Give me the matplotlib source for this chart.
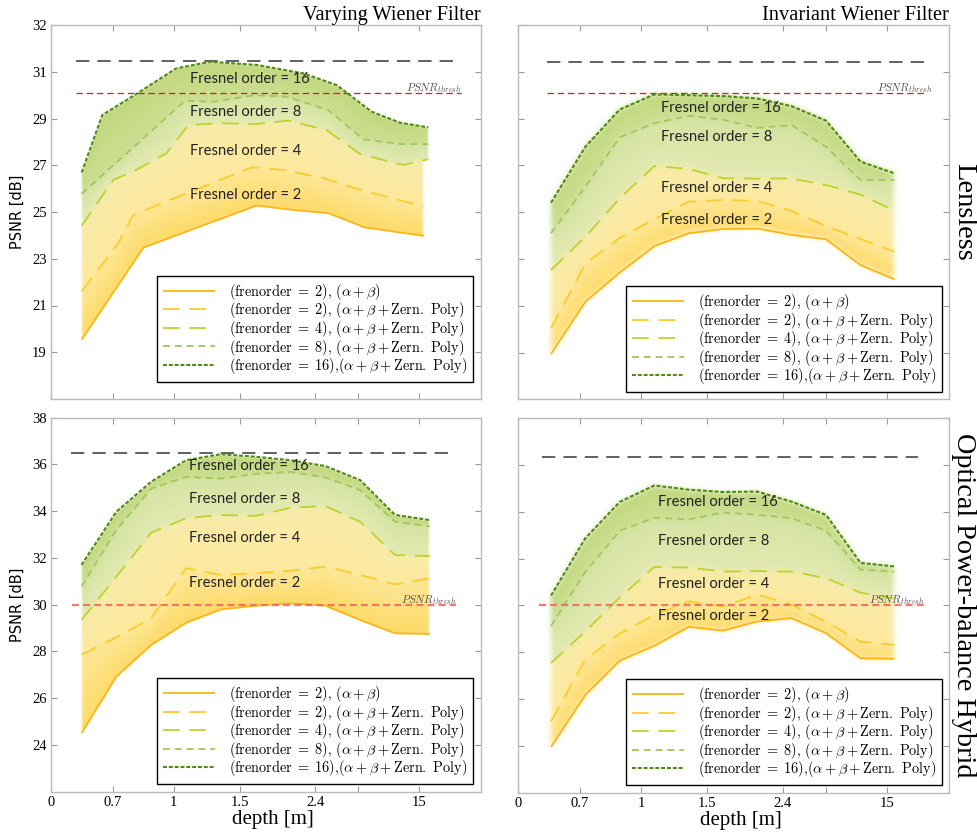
#!/usr/bin/env python3
"""
PSNR vs. depth for the varying / invariant Wiener filter,
lensless and optical power-balance hybrid set-ups.
"""

import numpy as np
import matplotlib
matplotlib.use('Agg')
import matplotlib.pyplot as plt
from matplotlib.colors import to_rgb

plt.rcParams['mathtext.fontset'] = 'cm'
plt.rcParams['lines.scale_dashes'] = False

SERIF = 'Liberation Serif'

# depth axis: positions along the axis (0-100) and the depths printed there
DEPTH_TICK_POS = [0, 14.34, 28.53, 43.95, 61.4, 71.47, 85.66]
DEPTH_TICK_LABELS = ['0', '0.7', '1', '1.5', '2.4', '', '15']

# sample positions of the depth sweep
POS_LEFT = [7.1, 15.2, 23.3, 31.4, 39.5, 47.6, 55.7, 63.8, 71.9, 80.0, 88.1]
POS_RIGHT = [7.6, 15.6, 23.6, 31.6, 39.6, 47.6, 55.5, 63.5, 71.5, 79.5, 87.4]

# --- Varying Wiener filter, lensless (curves sampled at their own positions)
vl_x_ab = [7.13, 21.47, 47.83, 56.36, 64.5, 73.02, 86.74]
vl_ab = [19.54, 23.48, 25.28, 25.09, 24.95, 24.34, 23.98]
vl_x_z2 = [7.13, 15.66, 19.15, 46.67, 54.03, 63.33, 71.86, 86.59]
vl_z2 = [21.6, 23.67, 24.88, 26.91, 26.8, 26.45, 25.95, 25.24]
vl_x_z4 = [7.13, 14.5, 19.15, 26.9, 31.94, 39.3, 47.44, 55.19, 64.11, 71.86, 81.94, 87.75]
vl_z4 = [24.41, 26.38, 26.73, 27.52, 28.72, 28.8, 28.76, 28.91, 28.5, 27.48, 27.01, 27.26]
vl_x_z8 = [7.13, 31.16, 37.75, 47.44, 54.8, 64.5, 72.64, 81.16, 87.75]
vl_z8 = [25.78, 29.76, 29.72, 30.0, 29.93, 29.36, 28.11, 27.91, 27.9]
vl_x_z16 = [7.13, 11.94, 20.3, 29.07, 36.98, 47.83, 58.68, 66.43, 74.57, 81.16, 87.75]
vl_z16 = [26.69, 29.15, 30.10, 31.14, 31.43, 31.29, 30.93, 30.43, 29.29, 28.82, 28.62]

# --- Invariant Wiener filter, lensless
il_ab = [18.94, 21.18, 22.42, 23.55, 24.1, 24.28, 24.3, 24.03, 23.84, 22.74, 22.13]
il_z2 = [20.04, 22.8, 23.9, 24.7, 25.45, 25.52, 25.48, 25.05, 24.4, 23.85, 23.31]
il_z4 = [22.53, 23.95, 25.6, 26.97, 26.85, 26.45, 26.43, 26.44, 26.16, 25.75, 25.06]
il_z8 = [24.1, 26.1, 28.2, 28.8, 29.12, 28.95, 28.6, 28.72, 27.8, 26.37, 26.37]
il_z16 = [25.4, 27.8, 29.39, 30.03, 30.0, 29.96, 29.86, 29.53, 28.91, 27.16, 26.66]

# --- Varying Wiener filter, optical power-balance hybrid
vh_ab = [24.51, 26.93, 28.28, 29.23, 29.8, 29.96, 30.06, 29.96, 29.35, 28.78, 28.75]
vh_z2 = [27.86, 28.6, 29.42, 31.56, 31.27, 31.35, 31.45, 31.63, 31.27, 30.87, 31.13]
vh_z4 = [29.35, 31.2, 33.08, 33.7, 33.84, 33.8, 34.15, 34.22, 33.55, 32.13, 32.08]
vh_z8 = [30.78, 33.2, 34.97, 35.47, 35.4, 35.6, 35.68, 35.45, 34.9, 33.55, 33.35]
vh_z16 = [31.7, 33.98, 35.26, 36.18, 36.44, 36.33, 36.18, 35.93, 35.33, 33.84, 33.62]

# --- Invariant Wiener filter, optical power-balance hybrid
ih_ab = [23.96, 26.19, 27.65, 28.28, 29.09, 28.93, 29.32, 29.46, 28.82, 27.75, 27.73]
ih_z2 = [25.05, 27.7, 28.8, 29.6, 30.17, 29.96, 30.47, 30.03, 29.3, 28.46, 28.32]
ih_z4 = [27.54, 28.9, 30.35, 31.65, 31.62, 31.45, 31.47, 31.45, 31.17, 30.55, 30.3]
ih_z8 = [29.13, 31.45, 33.2, 33.75, 33.68, 33.97, 33.88, 33.73, 33.2, 31.53, 31.45]
ih_z16 = [30.42, 32.88, 34.43, 35.13, 34.95, 34.85, 34.87, 34.44, 33.87, 31.82, 31.67]

# upper reference level and PSNR threshold of every panel
ref_level = {'vl': 31.46, 'il': 31.42, 'vh': 36.47, 'ih': 36.36}
psnr_thresh = {'vl': 30.08, 'il': 30.08, 'vh': 30.0, 'ih': 30.0}

# heights of the "Fresnel order" labels (orders 16, 8, 4, 2)
fresnel_orders = [16, 8, 4, 2]
label_y = {'vl': [30.69, 29.29, 27.63, 25.71],
           'il': [29.46, 28.22, 26.05, 24.67],
           'vh': [35.93, 34.53, 32.87, 30.93],
           'ih': [34.44, 32.76, 30.91, 29.53]}

LEGEND_LABELS = [
    r'$(\mathrm{frenorder}\;=\;2),\,(\alpha+\beta)$',
    r'$(\mathrm{frenorder}\;=\;2),\,(\alpha+\beta+\mathrm{Zern.\ Poly})$',
    r'$(\mathrm{frenorder}\;=\;4),\,(\alpha+\beta+\mathrm{Zern.\ Poly})$',
    r'$(\mathrm{frenorder}\;=\;8),\,(\alpha+\beta+\mathrm{Zern.\ Poly})$',
    r'$(\mathrm{frenorder}\;=\;16){,}(\alpha+\beta+\mathrm{Zern.\ Poly})$',
]

# curve styles: colour, width, dash pattern (points)
LINE_STYLES = [
    dict(color='#FDB515', lw=1.3, ls='-'),
    dict(color='#FDCB2C', lw=1.3, ls=(0, (12, 7))),
    dict(color='#BCD32E', lw=1.3, ls=(0, (12, 7))),
    dict(color='#A2C65C', lw=1.3, ls=(0, (5, 3.5))),
    dict(color='#4E8A12', lw=1.5, ls=(0, (2.8, 1.4))),
]

# band colours (bottom, top) from the lowest band upwards
BAND_COLORS = [
    ('#FDDB68', '#FEE796'),
    ('#FEE99E', '#F7EBA8'),
    ('#E4EAB2', '#D4E3A2'),
    ('#CCDF93', '#C2D77E'),
]


def gaussian_blur(img, sigma):
    """Separable gaussian blur along the first two axes."""
    if sigma <= 0:
        return img
    r = int(3 * sigma) + 1
    k = np.exp(-0.5 * (np.arange(-r, r + 1) / sigma) ** 2)
    k /= k.sum()
    pad = np.pad(img, ((r, r), (r, r)) + ((0, 0),) * (img.ndim - 2), mode='edge')
    out = np.apply_along_axis(lambda v: np.convolve(v, k, mode='valid'), 0, pad)
    out = np.apply_along_axis(lambda v: np.convolve(v, k, mode='valid'), 1, out)
    return out


def draw_bands(ax, curves, ylim, sigma, size=(430, 374)):
    """Fill the space between consecutive curves as a soft-edged raster."""
    w, h = size
    xs = np.linspace(0, 100, w)
    ys = np.linspace(ylim[0], ylim[1], h)
    X, Y = np.meshgrid(xs, ys)
    rgb = np.ones((h, w, 3))
    alpha = np.zeros((h, w))
    for k in range(len(curves) - 1):
        (xl, yl), (xh, yh) = curves[k], curves[k + 1]
        lo = np.interp(xs, xl, yl)[None, :]
        hi = np.interp(xs, xh, yh)[None, :]
        x0 = max(xl[0], xh[0])
        x1 = min(xl[-1], xh[-1])
        inside = (Y >= lo) & (Y < hi) & (X >= x0) & (X <= x1)
        t = np.clip((Y - lo) / np.maximum(hi - lo, 1e-6), 0, 1)[..., None]
        c0 = np.array(to_rgb(BAND_COLORS[k][0]))
        c1 = np.array(to_rgb(BAND_COLORS[k][1]))
        col = c0 * (1 - t) + c1 * t
        rgb[inside] = col[inside]
        alpha[inside] = 1.0
    prem = gaussian_blur(rgb * alpha[..., None], sigma)
    a = gaussian_blur(alpha, sigma)
    rgb_out = np.where(a[..., None] > 1e-4, prem / np.maximum(a[..., None], 1e-4), 1.0)
    rgba = np.dstack([np.clip(rgb_out, 0, 1), np.clip(a, 0, 1)])
    ax.imshow(rgba, extent=(0, 100, ylim[0], ylim[1]), origin='lower',
              aspect='auto', interpolation='bilinear', zorder=1)


def style_axes(ax, ylim, yticks, yticklabels):
    ax.set_xlim(0, 100)
    ax.set_ylim(*ylim)
    ax.set_xticks(DEPTH_TICK_POS)
    ax.set_yticks(yticks)
    if yticklabels is None:
        ax.set_yticklabels([])
    else:
        ax.set_yticklabels(yticklabels, family=SERIF, fontsize=10.5)
    for s in ax.spines.values():
        s.set_color('#BBBBBB')
        s.set_linewidth(1.0)
    ax.tick_params(direction='in', length=4, width=0.8, color='#999999',
                   top=True, right=True, pad=3, labelsize=10.5)


fig = plt.figure(figsize=(9.77, 8.36), dpi=100)
W, H = 977.0, 836.0

panels = [
    # key, axes box (left, top, right, bottom) in px, curves, row, column
    ('vl', (51, 25, 481, 399),
     [(vl_x_ab, vl_ab), (vl_x_z2, vl_z2), (vl_x_z4, vl_z4), (vl_x_z8, vl_z8), (vl_x_z16, vl_z16)], 0, 0),
    ('il', (518.3, 25, 948.7, 399.3),
     [(POS_RIGHT, il_ab), (POS_RIGHT, il_z2), (POS_RIGHT, il_z4), (POS_RIGHT, il_z8), (POS_RIGHT, il_z16)], 0, 1),
    ('vh', (51, 417.7, 481, 791.7),
     [(POS_LEFT, vh_ab), (POS_LEFT, vh_z2), (POS_LEFT, vh_z4), (POS_LEFT, vh_z8), (POS_LEFT, vh_z16)], 1, 0),
    ('ih', (518.3, 418.3, 948.7, 792.7),
     [(POS_RIGHT, ih_ab), (POS_RIGHT, ih_z2), (POS_RIGHT, ih_z4), (POS_RIGHT, ih_z8), (POS_RIGHT, ih_z16)], 1, 1),
]

# horizontal extents of the two dashed reference lines (axis positions)
ref_span = {'vl': ((5.8, 94.7), (5.8, 95.3)), 'il': ((6.7, 94.2), (6.7, 94.9)),
            'vh': ((4.7, 93.4), (4.8, 94.3)), 'ih': ((5.4, 92.8), (4.8, 94.5))}
thresh_text_x = {'vl': 95.6, 'il': 96.3, 'vh': 94.4, 'ih': 94.5}
label_x = {'vl': 32.3, 'il': 33.2, 'vh': 32.1, 'ih': 32.5}
legend_anchor = {'vl': (0.981, 0.046), 'il': (0.984, 0.019),
                 'vh': (0.981, 0.020), 'ih': (0.984, 0.020)}

for key, (l, t, r, b), curves, row, col in panels:
    ax = fig.add_axes([l / W, 1 - b / H, (r - l) / W, (b - t) / H])
    if row == 0:
        ylim = (17, 33)
        yticks = [19, 21, 23, 25, 27, 29, 31, 33]
        ylabels = ['19', '21', '23', '25', '27', '29', '31', '32']
    else:
        ylim = (22, 38)
        yticks = [24, 26, 28, 30, 32, 34, 36, 38]
        ylabels = [str(v) for v in yticks]
    style_axes(ax, ylim, yticks, ylabels if col == 0 else None)

    draw_bands(ax, curves, ylim, sigma=1.0 if col == 0 else 2.5)

    handles = []
    for (xs, ys), st, lab in zip(curves, LINE_STYLES, LEGEND_LABELS):
        h, = ax.plot(xs, ys, color=st['color'], lw=st['lw'], linestyle=st['ls'],
                     label=lab, zorder=3, solid_capstyle='butt')
        handles.append(h)

    (bx0, bx1), (rx0, rx1) = ref_span[key]
    ax.plot([bx0, bx1], [ref_level[key]] * 2, color='#555555', lw=1.3,
            linestyle=(0, (9.6, 5.8)), zorder=2)
    if row == 0:
        ax.plot([rx0, rx1], [psnr_thresh[key]] * 2, color='#E8161C', lw=0.9,
                linestyle=(0, (4.6, 2.8)), zorder=2)
    else:
        ax.plot([rx0, rx1], [psnr_thresh[key]] * 2, color='#F26A5E', lw=1.6,
                linestyle=(0, (5, 3)), alpha=0.9, zorder=4)
    ax.text(thresh_text_x[key], psnr_thresh[key] + 0.22, r'$PSNR_{thresh}$',
            ha='right', va='center', fontsize=8, color='#555555', zorder=5)

    for order, yv in zip(fresnel_orders, label_y[key]):
        ax.text(label_x[key], yv, f'Fresnel order = {order}', ha='left', va='center',
                fontsize=10.6, family='Lato', color='#222222', zorder=5)

    leg = ax.legend(handles=handles, loc='lower right', bbox_to_anchor=legend_anchor[key],
                    borderaxespad=0, fontsize=10.3, handlelength=3.6, handletextpad=1.0,
                    labelspacing=-0.1, fancybox=False, framealpha=1, edgecolor='black',
                    borderpad=0.4)
    leg.get_frame().set_linewidth(1.0)
    leg.set_zorder(6)

    if col == 0:
        ax.set_ylabel('PSNR [dB]', fontsize=10.5, family='DejaVu Sans')
        ax.yaxis.set_label_coords(-0.06, 0.5)
    if row == 1:
        ax.set_xticklabels(DEPTH_TICK_LABELS, family=SERIF, fontsize=10.5)
        ax.set_xlabel('depth [m]', fontsize=15, family=SERIF)
        ax.xaxis.set_label_coords(0.517, -0.048)
    else:
        ax.set_xticklabels([])
    if row == 0:
        title = 'Varying Wiener Filter' if col == 0 else 'Invariant Wiener Filter'
        ax.set_title(title, loc='right', fontsize=14.7, family=SERIF, pad=3)
    if col == 1:
        side = 'Lensless' if row == 0 else 'Optical Power-balance Hybrid'
        ax.text(1.035, 0.5, side, rotation=-90, ha='center', va='center',
                transform=ax.transAxes, fontsize=20.5 if row == 0 else 20.3, family=SERIF)

fig.savefig('out.png', dpi=100)
